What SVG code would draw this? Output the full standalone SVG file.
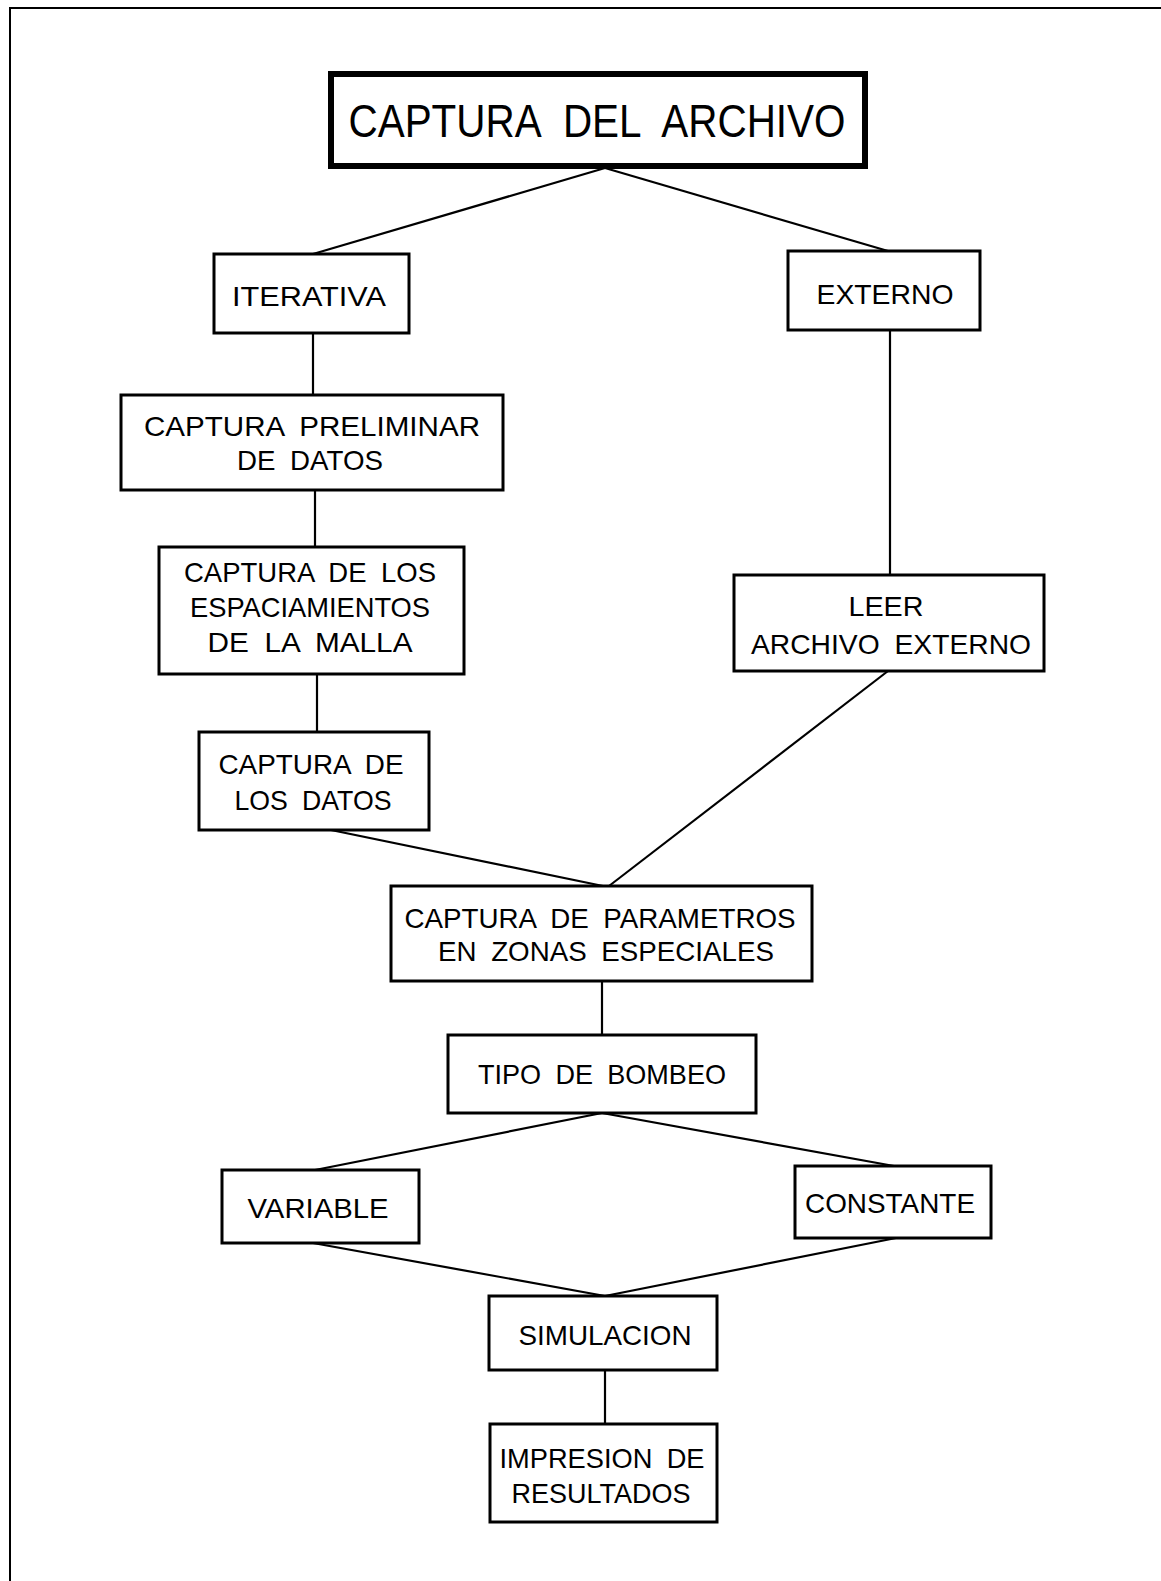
<svg xmlns="http://www.w3.org/2000/svg" width="1161" height="1581" viewBox="0 0 1161 1581">
<style>
.box{fill:#fff;stroke:#000;stroke-width:3}
.title{fill:#fff;stroke:#000;stroke-width:6}
.t{font-family:"Liberation Sans",Arial,sans-serif;font-size:28px;fill:#000;text-anchor:middle;word-spacing:7px}
.tt{font-family:"Liberation Sans",Arial,sans-serif;font-size:46px;fill:#000;text-anchor:middle;word-spacing:14px}
.c{stroke:#000;stroke-width:2.2;fill:none}
.frame{stroke:#000;stroke-width:2;fill:none}
</style>
<rect width="1161" height="1581" fill="#fff"/>
<path class="frame" d="M10,1581 V8 H1161"/>
<g id="connectors">
<line class="c" x1="605" y1="168" x2="313" y2="254"/>
<line class="c" x1="605" y1="168" x2="888" y2="251"/>
<line class="c" x1="313" y1="333" x2="313" y2="395" stroke-width="1.6"/>
<line class="c" x1="315" y1="490" x2="315" y2="547" stroke-width="1.6"/>
<line class="c" x1="317" y1="674" x2="317" y2="732" stroke-width="1.6"/>
<line class="c" x1="890" y1="330" x2="890" y2="575" stroke-width="1.6"/>
<line class="c" x1="888" y1="671" x2="609" y2="886"/>
<line class="c" x1="331" y1="830" x2="603" y2="886"/>
<line class="c" x1="602" y1="981" x2="602" y2="1035" stroke-width="1.6"/>
<line class="c" x1="602" y1="1113" x2="315" y2="1170"/>
<line class="c" x1="602" y1="1113" x2="894" y2="1166"/>
<line class="c" x1="313" y1="1243" x2="605" y2="1296"/>
<line class="c" x1="896" y1="1238" x2="605" y2="1296"/>
<line class="c" x1="605" y1="1370" x2="605" y2="1424" stroke-width="1.6"/>
</g>
<g id="n_title"><rect class="title" x="331" y="74" width="534" height="92"/><text class="tt" x="597" y="137" textLength="497" lengthAdjust="spacingAndGlyphs">CAPTURA DEL ARCHIVO</text></g>
<g id="n_iterativa"><rect class="box" x="214" y="254" width="195" height="79"/><text class="t" x="309" y="306" textLength="154" lengthAdjust="spacingAndGlyphs">ITERATIVA</text></g>
<g id="n_externo"><rect class="box" x="788" y="251" width="192" height="79"/><text class="t" x="885" y="304" textLength="137" lengthAdjust="spacingAndGlyphs">EXTERNO</text></g>
<g id="n_preliminar"><rect class="box" x="121" y="395" width="382" height="95"/><text class="t" x="312" y="436" textLength="336" lengthAdjust="spacingAndGlyphs">CAPTURA PRELIMINAR</text><text class="t" x="310" y="470" textLength="146" lengthAdjust="spacingAndGlyphs">DE DATOS</text></g>
<g id="n_espaciamientos"><rect class="box" x="159" y="547" width="305" height="127"/><text class="t" x="310" y="582" textLength="252" lengthAdjust="spacingAndGlyphs">CAPTURA DE LOS</text><text class="t" x="310" y="617" textLength="240" lengthAdjust="spacingAndGlyphs">ESPACIAMIENTOS</text><text class="t" x="310" y="652" textLength="205" lengthAdjust="spacingAndGlyphs">DE LA MALLA</text></g>
<g id="n_leer"><rect class="box" x="734" y="575" width="310" height="96"/><text class="t" x="886" y="616" textLength="75" lengthAdjust="spacingAndGlyphs">LEER</text><text class="t" x="891" y="654" textLength="280" lengthAdjust="spacingAndGlyphs">ARCHIVO EXTERNO</text></g>
<g id="n_datos"><rect class="box" x="199" y="732" width="230" height="98"/><text class="t" x="311" y="774" textLength="185" lengthAdjust="spacingAndGlyphs">CAPTURA DE</text><text class="t" x="313" y="810" textLength="157" lengthAdjust="spacingAndGlyphs">LOS DATOS</text></g>
<g id="n_parametros"><rect class="box" x="391" y="886" width="421" height="95"/><text class="t" x="600" y="928" textLength="391" lengthAdjust="spacingAndGlyphs">CAPTURA DE PARAMETROS</text><text class="t" x="606" y="961" textLength="336" lengthAdjust="spacingAndGlyphs">EN ZONAS ESPECIALES</text></g>
<g id="n_tipo"><rect class="box" x="448" y="1035" width="308" height="78"/><text class="t" x="602" y="1084" textLength="248" lengthAdjust="spacingAndGlyphs">TIPO DE BOMBEO</text></g>
<g id="n_variable"><rect class="box" x="222" y="1170" width="197" height="73"/><text class="t" x="318" y="1218" textLength="141" lengthAdjust="spacingAndGlyphs">VARIABLE</text></g>
<g id="n_constante"><rect class="box" x="795" y="1166" width="196" height="72"/><text class="t" x="890" y="1213" textLength="170" lengthAdjust="spacingAndGlyphs">CONSTANTE</text></g>
<g id="n_simulacion"><rect class="box" x="489" y="1296" width="228" height="74"/><text class="t" x="605" y="1345" textLength="173" lengthAdjust="spacingAndGlyphs">SIMULACION</text></g>
<g id="n_impresion"><rect class="box" x="490" y="1424" width="227" height="98"/><text class="t" x="602" y="1468" textLength="205" lengthAdjust="spacingAndGlyphs">IMPRESION DE</text><text class="t" x="601" y="1503" textLength="179" lengthAdjust="spacingAndGlyphs">RESULTADOS</text></g>
</svg>
